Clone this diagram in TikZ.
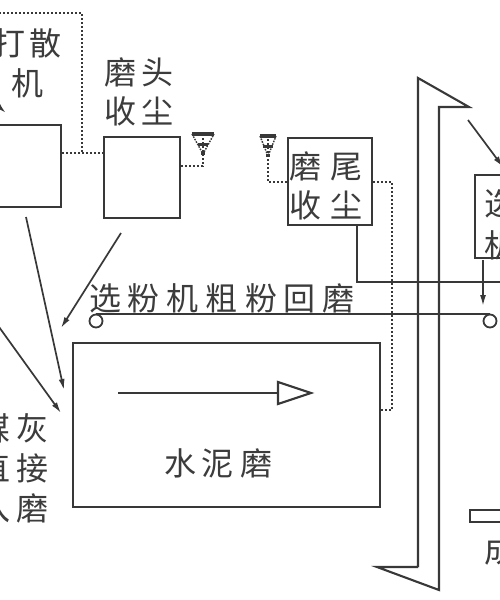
\documentclass[tikz,border=0pt]{standalone}
\usepackage{fontspec}
\newfontfamily\cjk{Noto Sans CJK SC}
\usetikzlibrary{arrows.meta}
\definecolor{ln}{HTML}{383838}
\definecolor{tx}{HTML}{3C3C3C}
\tikzset{
  boxline/.style={draw=ln, line width=2.3pt},
  dotline/.style={draw=ln, line width=2pt, dash pattern=on 2pt off 2pt},
  feed/.style={draw=ln, line width=1.7pt, -{Latex[length=11pt,width=6pt]}},
  plain/.style={draw=ln, line width=2.1pt},
  lbl/.style={font=\cjk\fontsize{32}{40}\selectfont, text=tx, inner sep=0pt, align=center},
}
\begin{document}
\begin{tikzpicture}[x=1pt,y=-1pt]
\useasboundingbox (0,0) rectangle (500,600);
\clip (0,0) rectangle (500,600);
\fill[white] (0,0) rectangle (500,600);

% boxes
\node[boxline, minimum width=81pt, minimum height=82pt, inner sep=0] (dsj) at (20.5,166) {};
\node[boxline, minimum width=76pt, minimum height=81pt, inner sep=0] (mtsc) at (142,177.5) {};
\node[boxline, minimum width=84pt, minimum height=87pt, inner sep=0] (mwsc) at (330,181.5) {};
\node[boxline, minimum width=85pt, minimum height=83pt, inner sep=0] (xfj) at (517.5,216.5) {};
\node[boxline, minimum width=307pt, minimum height=164pt, inner sep=0] (mill) at (226.5,425) {};
\node[boxline, minimum width=60pt, minimum height=12pt, inner sep=0] (cp) at (500,516) {};

% labels
\node[lbl] (tdsj) at (28,63) {打\hspace{4pt}散\\机};
\node[lbl, font=\cjk\fontsize{32}{39}\selectfont] (tmt) at (139,92) {磨\hspace{6pt}头\\收\hspace{6pt}尘};
\node[lbl, font=\cjk\fontsize{32}{39}\selectfont] (tmw) at (326,186) {磨\hspace{10pt}尾\\收\hspace{10pt}尘};
\node[lbl] (txf) at (222,298) {选\hspace{7pt}粉\hspace{7pt}机\hspace{7pt}粗\hspace{7pt}粉\hspace{7pt}回\hspace{7pt}磨};
\node[lbl] (tmill) at (218,463) {水\hspace{6pt}泥\hspace{6pt}磨};
\node[lbl, font=\cjk\fontsize{32}{40}\selectfont] (tmh) at (14,468) {煤\hspace{6pt}灰\\直\hspace{6pt}接\\入\hspace{6pt}磨};
\node[lbl, font=\cjk\fontsize{32}{42}\selectfont] (txfj) at (500,224) {选\\机};
\node[lbl] (tcp) at (500,550) {成};

% top-left dotted return
\coordinate (d0) at (-5,13);
\coordinate (d1) at (82,13);
\coordinate (d2) at (82,153);
\draw[dotline] (d0) -- (d1) -- (d2);
\draw[dotline] (dsj.east |- d2) -- (mtsc.west |- d2);

% vents
\coordinate (v1) at (203,134);
\coordinate (v2) at (268,136);
\draw[dotline] (mtsc.east |- 0,166) -| (v1);
\draw[dotline] (mwsc.west |- 0,182) -| (v2);
\foreach \v/\w in {v1/11,v2/8}{
  \draw[ln, line width=1.4pt, dash pattern=on 1.6pt off 1.2pt] ([xshift=-\w pt]\v) -- ([yshift=-20pt]\v) -- ([xshift=\w pt]\v);
  \fill[ln] ([xshift=-\w pt,yshift=-1.6pt]\v) rectangle ([xshift=\w pt,yshift=1.6pt]\v);
  \fill[ln] ([xshift=-5pt,yshift=-12pt]\v) rectangle ([xshift=5pt,yshift=-9pt]\v);
  \fill[ln] ([xshift=-2pt,yshift=-21pt]\v) rectangle ([xshift=2pt,yshift=-18pt]\v);
}

% mill tail dust dotted
\coordinate (m1) at (392,182);
\coordinate (m2) at (392,410);
\draw[dotline] (mwsc.east |- m1) -- (m1) -- (m2) -- (mill.east |- m2);

% feed arrows
\coordinate (a1s) at (26,217);
\coordinate (a1e) at (64,390);
\coordinate (a2s) at (121,233);
\coordinate (a2e) at (61,328);
\coordinate (a3s) at (-6,320);
\coordinate (a3e) at (61,413);
\coordinate (a4s) at (-12,97);
\coordinate (a4e) at (6,113);
\draw[feed] (a1s) -- (a1e);
\draw[feed] (a2s) -- (a2e);
\draw[feed] (a3s) -- (a3e);
\draw[feed] (a4s) -- (a4e);

% mill inner arrow
\coordinate (ia) at (118,393);
\coordinate (ib) at (278,393);
\draw[plain] (ia) -- (ib);
\draw[ln, line width=2.2pt, fill=white] (278,382) -- (311,393) -- (278,404) -- cycle;

% coarse powder return belt
\node[draw=ln, line width=1.8pt, circle, minimum size=13pt, inner sep=0] (p1) at (96,321) {};
\node[draw=ln, line width=1.8pt, circle, minimum size=13pt, inner sep=0] (p2) at (490,321) {};
\draw[plain] (p1.north) -- (p2.north);

% dust line from mill tail collector
\coordinate (t1) at (357,282);
\coordinate (t2) at (505,282);
\draw[plain] ([xshift=27pt]mwsc.south) -- (t1) -- (t2);

% bucket elevator
\coordinate (e1) at (418,78);
\coordinate (e2) at (469,107);
\coordinate (e3) at (439,107);
\coordinate (e4) at (439,590);
\coordinate (e5) at (377,567);
\coordinate (e6) at (418,567);
\draw[plain, line join=miter] (e6) -- (e1) -- (e2) -- (e3) -- (e4) -- (e5) -- (e6);

% elevator to separator
\coordinate (s1) at (468,120);
\coordinate (s2) at (503,167);
\draw[feed] (s1) -- (s2);
% separator coarse down
\coordinate (c1) at (483,260);
\coordinate (c2) at (483,306);
\draw[feed] (c1) -- (c2);
\end{tikzpicture}
\end{document}
